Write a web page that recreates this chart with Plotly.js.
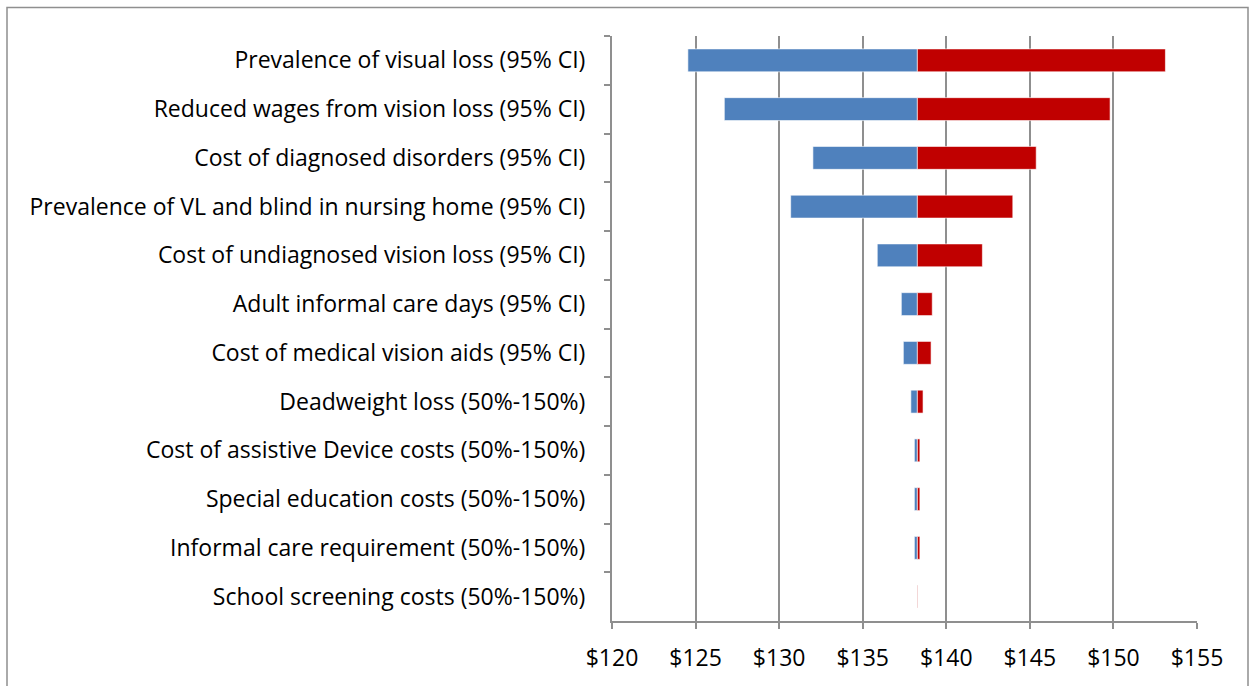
<!DOCTYPE html>
<html><head><meta charset="utf-8">
<script src="https://cdn.plot.ly/plotly-3.0.1.min.js"></script>
<style>html,body{margin:0;padding:0;background:#fff;}#chart{width:1252px;height:686px;}</style>
</head><body><div id="chart"></div>
<script>
const categories = [
  "Prevalence of visual loss (95% CI)",
  "Reduced wages from vision loss (95% CI)",
  "Cost of diagnosed disorders (95% CI)",
  "Prevalence of VL and blind in nursing home (95% CI)",
  "Cost of undiagnosed vision loss (95% CI)",
  "Adult informal care days (95% CI)",
  "Cost of medical vision aids (95% CI)",
  "Deadweight loss (50%-150%)",
  "Cost of assistive Device costs (50%-150%)",
  "Special education costs (50%-150%)",
  "Informal care requirement (50%-150%)",
  "School screening costs (50%-150%)"
];
const baseValue = 138.27;
const lowValues  = [124.54, 126.72, 132.02, 130.69, 135.87, 137.31, 137.43, 137.88, 138.09, 138.09, 138.09, 138.25];
const highValues = [153.11, 149.80, 145.38, 143.98, 142.16, 139.16, 139.09, 138.61, 138.42, 138.42, 138.42, 138.30];
const xTickVals = [120,125,130,135,140,145,150,155];
const xTickText = ["$120","$125","$130","$135","$140","$145","$150","$155"];

const font = "'Open Sans', sans-serif";
const lowTrace = {
  type: "bar", orientation: "h", y: categories,
  x: lowValues.map(v => v - baseValue), base: baseValue,
  marker: {color: "#4F81BD", line: {color: "rgba(255,255,255,0.6)", width: 1}},
  width: 0.47, hoverinfo: "skip", showlegend: false
};
const highTrace = {
  type: "bar", orientation: "h", y: categories,
  x: highValues.map(v => v - baseValue), base: baseValue,
  marker: {color: "#C00000", line: {color: "rgba(255,255,255,0.6)", width: 1}},
  width: 0.47, hoverinfo: "skip", showlegend: false
};
const layout = {
  width: 1252, height: 686,
  margin: {l: 612, r: 55, t: 36, b: 65, pad: 0},
  paper_bgcolor: "#fff", plot_bgcolor: "#fff",
  barmode: "overlay",
  font: {family: font, size: 23, color: "#000"},
  xaxis: {
    range: [120, 155], tickvals: xTickVals, ticktext: xTickText,
    showgrid: true, gridcolor: "#8f8f8f", gridwidth: 2,
    showline: true, linecolor: "#8f8f8f", linewidth: 2,
    ticks: "outside", ticklen: 6, tickcolor: "#8f8f8f", tickwidth: 2,
    ticklabelstandoff: 9,
    zeroline: false, tickfont: {family: font, size: 23, color: "#000"}, fixedrange: true
  },
  yaxis: {
    type: "category", autorange: "reversed",
    showline: true, linecolor: "#8f8f8f", linewidth: 2,
    ticks: "outside", ticklen: 6, tickcolor: "#8f8f8f", tickwidth: 2,
    tickson: "boundaries", showgrid: false, ticklabelstandoff: 20,
    tickfont: {family: font, size: 23, color: "#000"}, fixedrange: true
  },
  shapes: [{
    type: "rect", xref: "paper", yref: "paper",
    x0: (7 - 612) / 585, x1: (1248 - 612) / 585,
    y0: -0.2, y1: 1 + (36 - 7.5) / 585,
    line: {color: "#8f8f8f", width: 1.5}, fillcolor: "rgba(0,0,0,0)", layer: "below"
  }]
};
Plotly.newPlot("chart", [lowTrace, highTrace], layout, {displayModeBar: false, staticPlot: true});
</script></body></html>
